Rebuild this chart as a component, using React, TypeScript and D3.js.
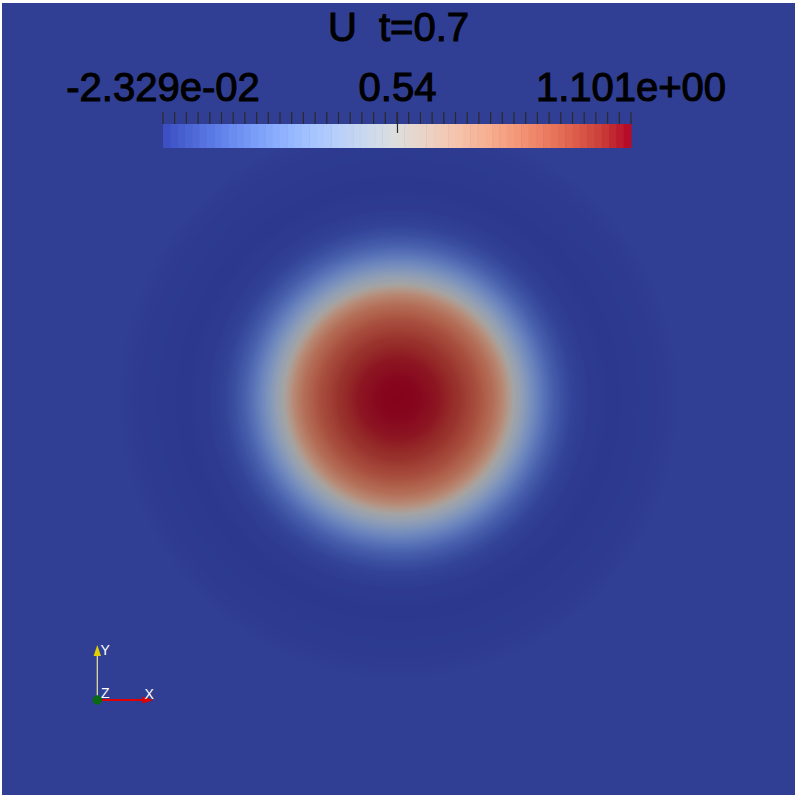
import React from "react";
import * as d3 from "d3";

// ---- data ----
const TITLE = "U  t=0.7";
const U_MIN = -0.02329;
const U_MAX = 1.101;
const RANGE_LABELS = ["-2.329e-02", "0.54", "1.101e+00"];
const RANGE_LABEL_VALUES = [U_MIN, 0.54, U_MAX];
const MID_TICK_VALUE = 0.54;
const N_TICKS = 41;
const N_BANDS = 64;

// radial profile of U (radius in domain units, domain = [-1, 1] square)
const RADII = [0, 0.05, 0.1, 0.151, 0.202, 0.24, 0.265, 0.29, 0.315, 0.34, 0.366, 0.39, 0.416, 0.441, 0.479, 0.53, 0.593, 0.643, 0.681, 0.696, 0.704, 1.5];
const U_VALUES = [1.101, 1.095, 1.07, 1.02, 0.93, 0.83, 0.72, 0.54, 0.42, 0.3, 0.19, 0.11, 0.05, 0.01, -0.015, -0.023, -0.021, -0.016, -0.011, -0.008, 0.0, 0.0];

// Cool to Warm colour map control points
const CMAP_POS = [0, 0.0625, 0.125, 0.1875, 0.25, 0.3125, 0.375, 0.4375, 0.5, 0.5625, 0.625, 0.6875, 0.75, 0.8125, 0.875, 0.9375, 1];
const CMAP_COLORS = [
  "rgb(59,76,192)", "rgb(77,104,215)", "rgb(98,130,234)", "rgb(119,154,247)",
  "rgb(141,176,254)", "rgb(163,194,255)", "rgb(184,208,249)", "rgb(204,217,238)",
  "rgb(221,221,221)", "rgb(236,211,197)", "rgb(245,196,173)", "rgb(247,177,148)",
  "rgb(244,154,123)", "rgb(236,127,99)", "rgb(222,96,77)", "rgb(203,62,56)", "rgb(180,4,38)",
];

const SHADE = 0.74;

export default function App() {
  const W = 798, H = 798;
  const x0 = 2, x1 = 795, y0 = 3, y1 = 795;
  const cx = (x0 + x1) / 2, cy = (y0 + y1) / 2;
  const half = (x1 - x0) / 2;

  const norm = d3.scaleLinear().domain([U_MIN, U_MAX]).range([0, 1]).clamp(true);
  const cmap = d3.scaleLinear<string>().domain(CMAP_POS).range(CMAP_COLORS).interpolate(d3.interpolateRgb);
  const profile = d3.scaleLinear().domain(RADII).range(U_VALUES).clamp(true);
  const rScale = d3.scaleLinear().domain([0, 1]).range([0, half]);

  const shaded = (u: number) => {
    const c = d3.rgb(cmap(norm(u)));
    return d3.rgb(c.r * SHADE, c.g * SHADE, c.b * SHADE).formatRgb();
  };

  const Rmax = 600;
  const stops = d3.range(0, Rmax + 1, 1).map((px) => {
    const u = profile(rScale.invert(px));
    return { offset: px / Rmax, color: shaded(u) };
  });

  // colour bar
  const barX0 = 163, barX1 = 631, barY0 = 124, barY1 = 148;
  const barScale = d3.scaleLinear().domain([U_MIN, U_MAX]).range([barX0, barX1]);
  const bandW = (barX1 - barX0) / N_BANDS;
  const bands = d3.range(N_BANDS).map((i) => ({
    x: barX0 + i * bandW,
    color: cmap((i + 0.5) / N_BANDS),
  }));
  const ticks = d3.range(N_TICKS).map((i) => U_MIN + (i * (U_MAX - U_MIN)) / (N_TICKS - 1));

  const font = "'Liberation Sans', Arial, sans-serif";

  // triad
  const ox = 97.3, oy = 700;

  return (
    <svg width={W} height={H} style={{ position: "absolute", left: 0, top: 0, background: "#fff" }}>
      <defs>
        <radialGradient id="field" gradientUnits="userSpaceOnUse" cx={cx} cy={cy} r={Rmax}>
          {stops.map((s, i) => (
            <stop key={i} offset={s.offset} stopColor={s.color} />
          ))}
        </radialGradient>
      </defs>
      <rect x={x0} y={y0} width={x1 - x0} height={y1 - y0} fill="url(#field)" />

      {/* title */}
      <text x={cx} y={41} textAnchor="middle" fontFamily={font} fontSize={40} fill="#000" stroke="#000" strokeWidth={1.1} style={{ whiteSpace: "pre" }}>
        {TITLE}
      </text>

      {/* range labels */}
      {RANGE_LABELS.map((t, i) => (
        <text key={t} x={barScale(RANGE_LABEL_VALUES[i])} y={101} textAnchor="middle" fontFamily={font} fontSize={40} fill="#000" stroke="#000" strokeWidth={1.1}>
          {t}
        </text>
      ))}

      {/* colour bar */}
      {bands.map((b, i) => (
        <rect key={i} x={b.x} y={barY0} width={bandW + 0.5} height={barY1 - barY0} fill={b.color} />
      ))}
      {ticks.map((v, i) => (
        <line key={i} x1={barScale(v)} x2={barScale(v)} y1={112} y2={124} stroke="#2a2a2a" strokeWidth={1.2} />
      ))}
      <line x1={barScale(MID_TICK_VALUE)} x2={barScale(MID_TICK_VALUE)} y1={112} y2={133} stroke="#2a2a2a" strokeWidth={1.2} />

      {/* orientation triad */}
      <line x1={ox} y1={oy} x2={ox} y2={655} stroke="#e8e89a" strokeWidth={1.2} />
      <path d={`M${ox},645 L${ox - 3.7},656 L${ox + 3.7},656 Z`} fill="#e0d000" />
      <line x1={ox} y1={oy} x2={143} y2={oy} stroke="#e00000" strokeWidth={2} />
      <path d={`M153.5,${oy} L142.5,${oy - 3.5} L142.5,${oy + 3.5} Z`} fill="#e00000" />
      <circle cx={ox} cy={oy} r={4.7} fill="#0a6a14" />
      <text x={100.5} y={655} fontFamily={font} fontSize={14} fill="#fff">Y</text>
      <text x={101} y={698} fontFamily={font} fontSize={14} fill="#fff">Z</text>
      <text x={144.5} y={698.5} fontFamily={font} fontSize={14} fill="#fff">X</text>
    </svg>
  );
}
